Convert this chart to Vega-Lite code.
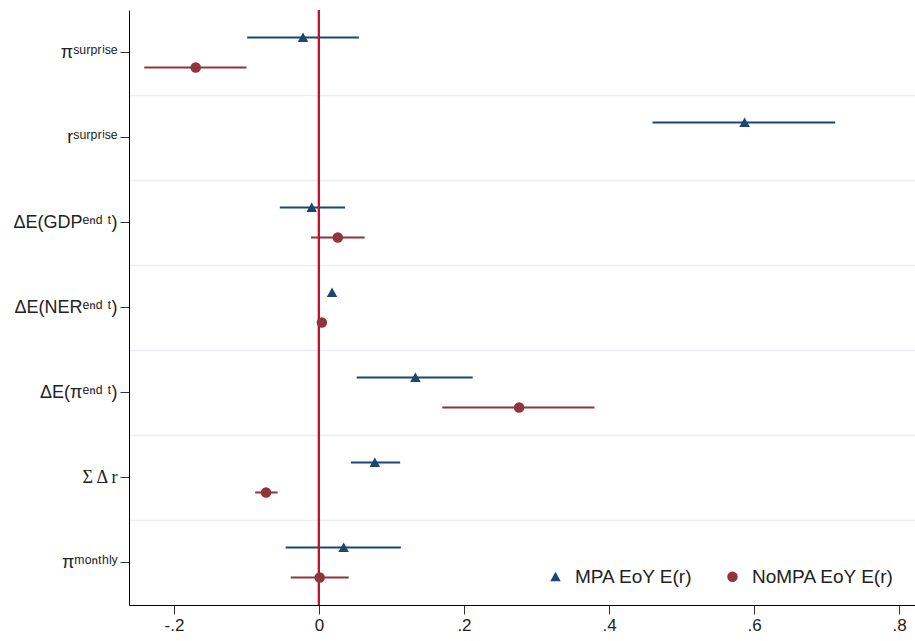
{
  "$schema": "https://vega.github.io/schema/vega-lite/v6.json",
  "width": 786,
  "height": 595,
  "autosize": {"type": "none"},
  "padding": {"left": 129, "top": 10, "right": 0, "bottom": 36},
  "background": "white",
  "config": {"view": {"stroke": null}, "font": "Liberation Sans"},
  "data": {
    "values": [
      {"label": "πˢᵘʳᵖʳⁱˢᵉ", "group": "MPA EoY E(r)", "est": -0.022, "lo": -0.099, "hi": 0.055},
      {"label": "πˢᵘʳᵖʳⁱˢᵉ", "group": "NoMPA EoY E(r)", "est": -0.170, "lo": -0.241, "hi": -0.100},
      {"label": "rˢᵘʳᵖʳⁱˢᵉ", "group": "MPA EoY E(r)", "est": 0.587, "lo": 0.460, "hi": 0.712},
      {"label": "ΔE(GDPᵉⁿᵈ ᵗ)", "group": "MPA EoY E(r)", "est": -0.010, "lo": -0.054, "hi": 0.036},
      {"label": "ΔE(GDPᵉⁿᵈ ᵗ)", "group": "NoMPA EoY E(r)", "est": 0.026, "lo": -0.011, "hi": 0.063},
      {"label": "ΔE(NERᵉⁿᵈ ᵗ)", "group": "MPA EoY E(r)", "est": 0.018, "lo": 0.017, "hi": 0.019},
      {"label": "ΔE(NERᵉⁿᵈ ᵗ)", "group": "NoMPA EoY E(r)", "est": 0.004, "lo": 0.003, "hi": 0.005},
      {"label": "ΔE(πᵉⁿᵈ ᵗ)", "group": "MPA EoY E(r)", "est": 0.133, "lo": 0.052, "hi": 0.212},
      {"label": "ΔE(πᵉⁿᵈ ᵗ)", "group": "NoMPA EoY E(r)", "est": 0.276, "lo": 0.170, "hi": 0.380},
      {"label": "Σ Δ r", "group": "MPA EoY E(r)", "est": 0.077, "lo": 0.044, "hi": 0.112},
      {"label": "Σ Δ r", "group": "NoMPA EoY E(r)", "est": -0.073, "lo": -0.088, "hi": -0.057},
      {"label": "πᵐᵒⁿᵗʰˡʸ", "group": "MPA EoY E(r)", "est": 0.034, "lo": -0.046, "hi": 0.113},
      {"label": "πᵐᵒⁿᵗʰˡʸ", "group": "NoMPA EoY E(r)", "est": 0.001, "lo": -0.039, "hi": 0.041}
    ]
  },
  "layer": [
    {
      "mark": {"type": "rule", "strokeWidth": 2},
      "encoding": {
        "y": {
          "field": "label", "type": "nominal",
          "sort": ["πˢᵘʳᵖʳⁱˢᵉ", "rˢᵘʳᵖʳⁱˢᵉ", "ΔE(GDPᵉⁿᵈ ᵗ)", "ΔE(NERᵉⁿᵈ ᵗ)", "ΔE(πᵉⁿᵈ ᵗ)", "Σ Δ r", "πᵐᵒⁿᵗʰˡʸ"],
          "scale": {"paddingInner": 0, "paddingOuter": 0},
          "axis": {
            "orient": "right", "bandPosition": 0,
            "values": ["rˢᵘʳᵖʳⁱˢᵉ", "ΔE(GDPᵉⁿᵈ ᵗ)", "ΔE(NERᵉⁿᵈ ᵗ)", "ΔE(πᵉⁿᵈ ᵗ)", "Σ Δ r", "πᵐᵒⁿᵗʰˡʸ"],
            "grid": true, "gridColor": "#e9eff2", "gridWidth": 1.5,
            "ticks": false, "labels": false, "domain": false, "title": null
          }
        },
        "yOffset": {"field": "group", "type": "nominal", "scale": {"paddingInner": 0, "paddingOuter": 0.4167}},
        "x": {
          "field": "lo", "type": "quantitative",
          "scale": {"domain": [-0.262, 0.822], "nice": false, "zero": false},
          "axis": {
            "values": [-0.2, 0, 0.2, 0.4, 0.6, 0.8],
            "labelExpr": "datum.value < -0.001 ? '-' + slice(format(-datum.value, '.1f'), 1) : (abs(datum.value) < 0.001 ? '0' : slice(format(datum.value, '.1f'), 1))",
            "grid": false, "title": null,
            "domainColor": "#000", "domainWidth": 1,
            "tickColor": "#333", "tickSize": 9, "tickWidth": 1,
            "labelFontSize": 17, "labelColor": "#222", "labelPadding": 3
          }
        },
        "x2": {"field": "hi"},
        "color": {
          "field": "group", "type": "nominal",
          "scale": {"domain": ["MPA EoY E(r)", "NoMPA EoY E(r)"], "range": ["#1a476f", "#90353b"]},
          "legend": {
            "orient": "none", "legendX": 417, "legendY": 557, "direction": "horizontal",
            "title": null, "labelFontSize": 19, "labelColor": "#222",
            "symbolSize": 110, "symbolStrokeWidth": 0, "labelOffset": 10, "columnPadding": 30
          }
        }
      }
    },
    {
      "mark": {"type": "rule", "color": "#c4122f", "strokeWidth": 2},
      "encoding": {"x": {"datum": 0}}
    },
    {
      "mark": {"type": "point", "filled": true, "opacity": 1, "size": 110},
      "encoding": {
        "y": {
          "field": "label", "type": "nominal",
          "sort": ["πˢᵘʳᵖʳⁱˢᵉ", "rˢᵘʳᵖʳⁱˢᵉ", "ΔE(GDPᵉⁿᵈ ᵗ)", "ΔE(NERᵉⁿᵈ ᵗ)", "ΔE(πᵉⁿᵈ ᵗ)", "Σ Δ r", "πᵐᵒⁿᵗʰˡʸ"],
          "axis": {
            "orient": "left", "title": null, "grid": false,
            "domainColor": "#000", "domainWidth": 1,
            "tickColor": "#333", "tickSize": 9, "tickWidth": 1,
            "labelFontSize": 18, "labelColor": "#222", "labelPadding": 3,
            "labelFont": {"condition": {"test": "datum.value == 'Σ Δ r'", "value": "Liberation Serif"}, "value": "Liberation Sans"}
          }
        },
        "yOffset": {"field": "group", "type": "nominal"},
        "x": {"field": "est", "type": "quantitative"},
        "color": {
          "field": "group", "type": "nominal",
          "legend": {
            "orient": "none", "legendX": 417, "legendY": 557, "direction": "horizontal",
            "title": null, "labelFontSize": 19, "labelColor": "#222",
            "symbolSize": 110, "symbolStrokeWidth": 0, "labelOffset": 10, "columnPadding": 30
          }
        },
        "shape": {
          "field": "group", "type": "nominal",
          "scale": {"domain": ["MPA EoY E(r)", "NoMPA EoY E(r)"], "range": ["M-1,0.85L1,0.85L0,-0.95Z", "circle"]},
          "legend": {
            "orient": "none", "legendX": 417, "legendY": 557, "direction": "horizontal",
            "title": null, "labelFontSize": 19, "labelColor": "#222",
            "symbolSize": 110, "symbolStrokeWidth": 0, "labelOffset": 10, "columnPadding": 30
          }
        }
      }
    }
  ],
  "resolve": {"axis": {"y": "independent"}}
}
